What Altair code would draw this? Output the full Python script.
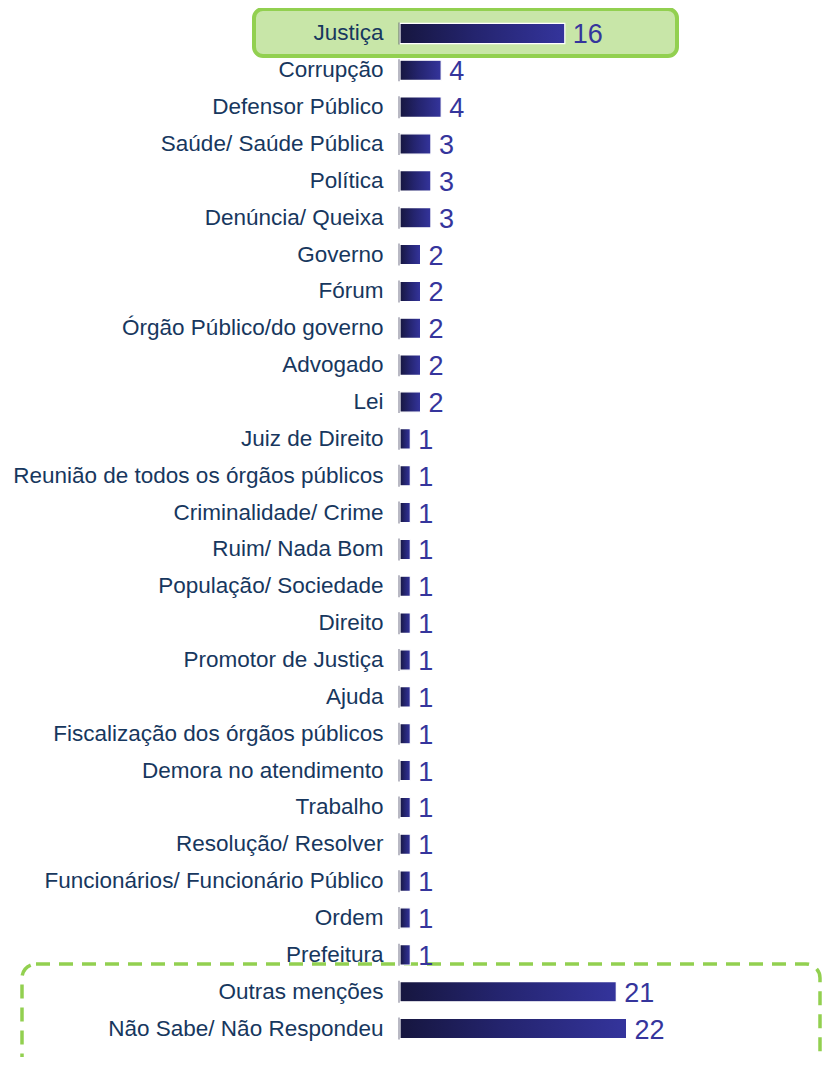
import altair as alt
import pandas as pd

categories = [
    "Justiça", "Corrupção", "Defensor Público", "Saúde/ Saúde Pública", "Política",
    "Denúncia/ Queixa", "Governo", "Fórum", "Órgão Público/do governo", "Advogado",
    "Lei", "Juiz de Direito", "Reunião de todos os órgãos públicos",
    "Criminalidade/ Crime", "Ruim/ Nada Bom", "População/ Sociedade", "Direito",
    "Promotor de Justiça", "Ajuda", "Fiscalização dos órgãos públicos",
    "Demora no atendimento", "Trabalho", "Resolução/ Resolver",
    "Funcionários/ Funcionário Público", "Ordem", "Prefeitura",
    "Outras menções", "Não Sabe/ Não Respondeu",
]
values = [16, 4, 4, 3, 3, 3, 2, 2, 2, 2, 2, 1, 1, 1, 1, 1, 1, 1, 1, 1, 1, 1, 1, 1, 1, 1, 21, 22]

df = pd.DataFrame({"cat": categories, "val": values})

FONT = "Liberation Sans"
LABEL_COLOR = "#17375E"
VALUE_COLOR = "#35359C"

y_enc = alt.Y(
    "cat:N", sort=categories, title=None,
    scale=alt.Scale(paddingInner=0.45, paddingOuter=0.225),
    axis=alt.Axis(
        labelFont=FONT, labelFontSize=22.5, labelColor=LABEL_COLOR, labelPadding=17,
        domain=False, ticks=False, zindex=1, labelLimit=420,
    ),
)
x_enc = alt.X("val:Q", scale=alt.Scale(domain=[0, 40]), axis=None, title=None)

base = alt.Chart(df)

highlight = base.transform_filter(alt.datum.cat == "Justiça").mark_rect(
    fill="#C8E6A8", stroke="#92D050", strokeWidth=4, cornerRadius=9
).encode(
    x=alt.value(-146), x2=alt.value(277), y=alt.value(-6), y2=alt.value(41)
)

dashed = base.transform_filter(alt.datum.cat == "Outras menções").mark_rect(
    fill=None, stroke="#92D050", strokeWidth=3.5, strokeDash=[14, 9], cornerRadius=14
).encode(
    x=alt.value(-378), x2=alt.value(420), y=alt.value(949), y2=alt.value(1070)
)

gradient = alt.Gradient(
    gradient="linear",
    stops=[
        alt.GradientStop(color="#16163F", offset=0),
        alt.GradientStop(color="#24246E", offset=0.45),
        alt.GradientStop(color="#34349C", offset=1),
    ],
    x1=0, x2=1, y1=0, y2=0,
)

bars = base.mark_bar(color=gradient, stroke="white", strokeWidth=1.2).encode(
    y=y_enc, x=x_enc
)

edge = base.mark_tick(color="#3A3A5A", thickness=1, size=22).encode(
    y=alt.Y("cat:N", sort=categories), x=alt.value(-1)
)

labels = base.mark_text(
    align="left", baseline="middle", dx=8, dy=2, font=FONT, fontSize=27, color=VALUE_COLOR
).encode(y=alt.Y("cat:N", sort=categories), x="val:Q", text="val:Q")

chart = alt.layer(highlight, dashed, bars, edge, labels).properties(
    width=412, height=1032,
    autosize=alt.AutoSizeParams(type="none"),
    padding={"left": 392, "top": 7, "right": 11, "bottom": 10},
).configure_view(stroke=None)

chart.save("out.html", embed_options={"renderer": "svg", "actions": False})
